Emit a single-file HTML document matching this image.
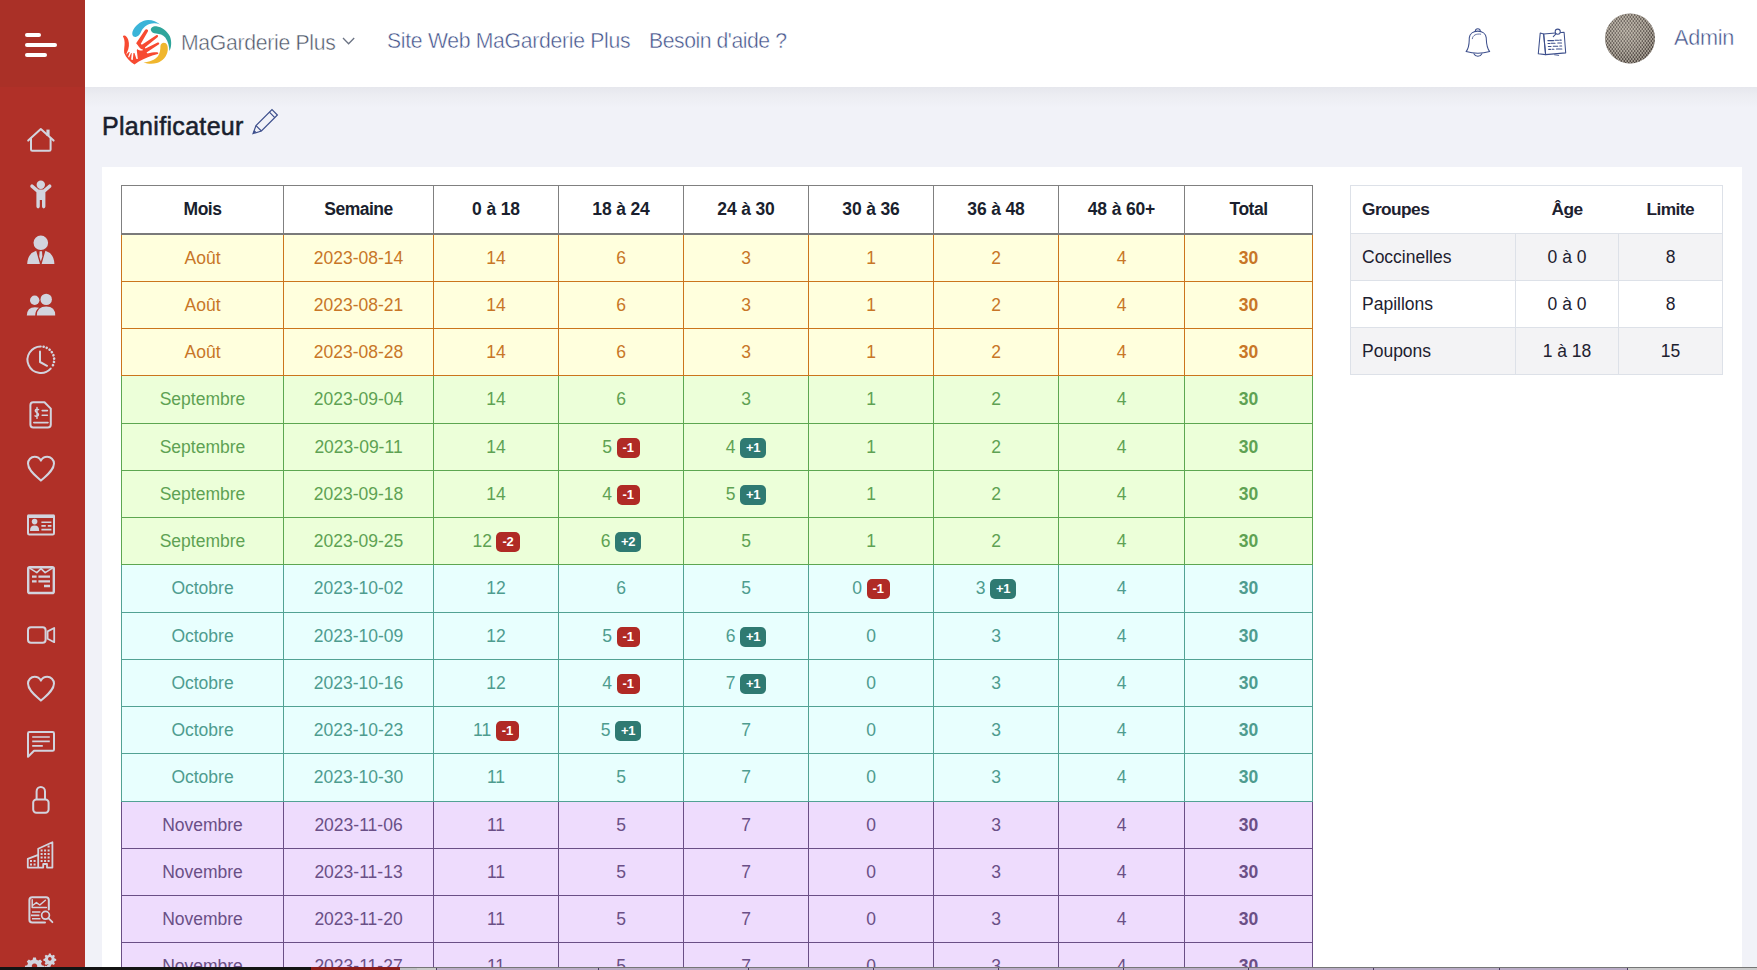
<!DOCTYPE html>
<html lang="fr"><head><meta charset="utf-8"><title>Planificateur</title>
<style>
*{box-sizing:border-box;margin:0;padding:0}
html,body{width:1757px;height:970px;overflow:hidden}
body{background:#f1f2f8;font-family:"Liberation Sans",sans-serif;color:#1d212f;position:relative}
.abs{position:absolute}
#sidebar{position:absolute;left:0;top:0;width:85px;height:970px;background:linear-gradient(#aa3027 0,#aa3027 87px,#b03028 87px)}
#sidebar svg{position:absolute;left:0;overflow:visible}
#topbar{position:absolute;left:85px;top:0;width:1672px;height:87px;background:#fff}
#topshadow{position:absolute;left:85px;top:87px;width:1672px;height:21px;background:linear-gradient(#e6e7ed,#ecedf2 40%,#f1f2f8)}
#topbar .t{position:absolute;white-space:nowrap;color:#42528a;-webkit-text-stroke:0.45px #fff;font-size:21.2px;letter-spacing:-0.3px;line-height:24px}
#title{position:absolute;left:102px;top:110px;font-size:25px;line-height:32px;font-weight:normal;-webkit-text-stroke:0.55px #1a1f2e;letter-spacing:0.32px;color:#1a1f2e;white-space:nowrap}
#card{position:absolute;left:102px;top:167px;width:1640px;height:820px;background:#fff}
table{border-collapse:collapse;table-layout:fixed}
#main{position:absolute;left:121px;top:185px;width:1192px;font-size:17.5px}
#main th,#main td{line-height:26px;text-align:center;vertical-align:middle;padding:0;border:1px solid #808080;white-space:nowrap}
#main thead th{height:48px;font-weight:bold;color:#1a1f2e;border-bottom:2px solid #7a7a7a;background:#fff;font-size:17.5px;letter-spacing:-0.15px}
#main thead th.w{letter-spacing:-0.5px}

#main tr.y td{background:#ffffdd;color:#c87627;border-color:#cb751c}
#main tr.g td{background:#ecffd9;color:#5ea253;border-color:#5da751}
#main tr.c td{background:#e8fffe;color:#4e9c8f;border-color:#52a294}
#main tr.p td{background:#eedcfd;color:#6a4f86;border-color:#6a4f86}
#main td.tot{font-weight:bold}
.bd{display:inline-block;font-size:13px;font-weight:bold;color:#fff;border-radius:5px;padding:0 6px;height:20px;line-height:20px;vertical-align:top;margin-top:4px;margin-left:4.5px;letter-spacing:-0.2px}
#main tr.h48 td{padding-bottom:1px}
#main tr.r0 td{padding-top:1px}
.bd.r{background:#b02a25}
.bd.t{background:#2f7a72}
#grp{position:absolute;left:1350px;top:185px;width:372px;font-size:17.5px;color:#1d212f}
#grp th,#grp td{border:1px solid #dde1e8;height:47px;padding:0 11px;text-align:center;white-space:nowrap}
#grp th{height:48px;font-weight:bold;font-size:17.3px;letter-spacing:-0.55px;border-left:none;border-right:none}
#grp th:first-child{border-left:1px solid #dde1e8}
#grp th:last-child{border-right:1px solid #dde1e8}
#grp td:first-child,#grp th:first-child{text-align:left}
#grp tr.s td{background:#f3f3f5}
#strip{position:absolute;left:0;top:967px;width:1757px;height:3px;background:#cbcbcb}
#strip i{position:absolute;top:0;height:3px;display:block}
</style></head>
<body>
<div id="sidebar">
<svg width="85" height="970" viewBox="0 0 85 970">
<!-- hamburger -->
<g fill="#fff">
<rect x="25" y="33" width="16" height="4" rx="2"/>
<rect x="25" y="43" width="32" height="4" rx="2"/>
<rect x="25" y="53" width="22" height="4" rx="2"/>
</g>
<g fill="none" stroke="#d2d4de" stroke-width="2" stroke-linecap="round" stroke-linejoin="round">
<!-- home -->
<path d="M28.2 140.6 L40.8 129 L53.6 140.600"/>
<path d="M31 138.5 V149.5 Q31 150.8 32.3 150.8 H49.3 Q50.6 150.8 50.6 149.5 V138.5"/>
<path d="M48 135.8 V129.6" stroke-width="3.2" stroke-linecap="butt"/>
<!-- clock -->
<path d="M40.8 346.4 A13.3 13.3 0 1 0 50.7 368.6"/>
<path d="M43.6 346.7 A13.3 13.3 0 0 1 52.6 366" stroke-dasharray="0.1 3.25" stroke-width="2.6"/>
<path d="M40 351.5 V362 L47 365.8"/>
<!-- invoice -->
<path d="M33.2 402.3 H44.5 L50.8 408.6 V424.6 Q50.8 427.6 47.8 427.6 H33.2 Q30.4 427.6 30.4 424.6 V405.3 Q30.4 402.3 33.2 402.3 Z"/>
<path d="M42.2 410.6 H47.4 M42.2 415.2 H47.4 M33.8 422.6 H48" stroke-width="1.6"/>
<path d="M38.6 409.6 Q36.8 408.6 35.6 409.8 Q34.6 411.4 36.8 412.6 Q39.2 413.8 38.2 415.6 Q37 416.8 35 415.8 M37 407.4 V418.4" stroke-width="1.4"/>
<!-- heart 1 -->
<path d="M40.9 480.6 C36 476 28 470.5 28 463.6 C28 459.6 31 456.8 34.6 456.8 C37.2 456.8 39.6 458.2 40.9 460.6 C42.2 458.2 44.6 456.8 47.2 456.8 C50.8 456.8 54 459.6 54 463.6 C54 470.5 45.8 476 40.9 480.6 Z"/>
<!-- id card -->
<path d="M28 516 H54 V533.3 Q54 534.6 52.7 534.6 H29.3 Q28 534.6 28 533.3 Z"/>
<path d="M27.6 516.2 H54.4" stroke-width="3.6" stroke-linecap="butt"/>
<path d="M41.4 522.2 H51.4 M41.4 525.9 H45.8 M47.8 525.9 H51.4 M41.4 529.6 H51.4" stroke-width="1.6" stroke-linecap="butt"/>
<!-- list -->
<rect x="28.2" y="567.2" width="25.6" height="25.8" rx="1.6" stroke-width="2.4"/>
<path d="M30 568.4 L36.8 572.6 L41 568.6 L45.2 572.6 L52 568.4" stroke-width="1.6"/>
<path d="M32 576.6 H36.6 M38.4 576.6 H50 M32 581.4 H36.6 M38.4 581.4 H50 M44 586 H50" stroke-width="2.4" stroke-linecap="butt"/>
<!-- video -->
<rect x="28" y="627.2" width="17.6" height="15.6" rx="3"/>
<path d="M47.6 631.4 L54.2 628 V642.2 L47.6 638.8 Z" stroke-width="1.8"/>
<!-- heart 2 -->
<path d="M40.9 700.6 C36 696 28 690.5 28 683.6 C28 679.6 31 676.8 34.6 676.8 C37.2 676.8 39.6 678.2 40.9 680.6 C42.2 678.2 44.6 676.8 47.2 676.8 C50.8 676.8 54 679.6 54 683.6 C54 690.5 45.8 696 40.9 700.6 Z"/>
<!-- chat -->
<path d="M28 756.8 V733.4 Q28 732 29.4 732 H52.6 Q54 732 54 733.4 V749.4 Q54 750.8 52.6 750.8 H34 Z"/>
<path d="M32.2 737 H49.8 M32.2 741.4 H49.8 M32.2 745.8 H42.8" stroke-width="1.7" stroke-linecap="butt"/>
<!-- lock -->
<rect x="33.2" y="799.4" width="15.4" height="13.4" rx="3.2"/>
<path d="M36.6 799 V791.4 A4.2 4.4 0 0 1 45 791.4 V799"/>
<!-- building -->
<path d="M38.2 867.6 V848.8 L52.4 842.2 V867.6 H47 V864 H43.2 V867.6 H27.8 V858.8 L37.6 855.2" stroke-width="1.8"/>
<!-- report -->
<path d="M45 922.6 H32.2 Q29.4 922.6 29.4 919.8 V900 Q29.4 897.2 32.2 897.2 H46 Q48.8 897.2 48.8 900 V909.6"/>
<path d="M32.2 899.8 V907.4 H46.4 M33.2 905 L36.4 902.6 L39.8 905 L45.4 900.2" stroke-width="1.5"/>
<path d="M32 912 H40.4 M31 915.4 H39.4 M32 918.8 H40.4" stroke-width="1.6" stroke-linecap="butt"/>
<circle cx="45.5" cy="915.3" r="3.9" stroke-width="1.7"/>
<path d="M48.4 918.2 L52.4 922.2" stroke-width="1.8"/>
</g>
<g fill="#d2d4de">
<!-- building windows -->
<path d="M47.6 845.6h2v2h-2z M40.6 849.6h2v2h-2z M44.1 849.6h2v2h-2z M47.6 849.6h2v2h-2z M40.6 853.1h2v2h-2z M44.1 853.1h2v2h-2z M47.6 853.1h2v2h-2z M40.6 856.6h2v2h-2z M44.1 856.6h2v2h-2z M47.6 856.6h2v2h-2z M40.6 860.1h2v2h-2z M44.1 860.1h2v2h-2z M47.6 860.1h2v2h-2z M30 860h2v2h-2z M33.6 860h2v2h-2z M30 863.5h2v2h-2z M33.6 863.5h2v2h-2z"/>
<!-- child -->
<circle cx="40.8" cy="184.8" r="4.2"/>
<path d="M36.4 192.2 L30.6 187.2 Q29.600 185.800 30.900 184.700 Q32.200 183.900 33.300 185 L38.600 189.600 H43.200 L48.400 185 Q49.500 183.900 50.800 184.700 Q52.100 185.800 51.100 187.200 L45.400 192.200 V206.600 Q45.400 208.400 43.700 208.400 Q42 208.400 42 206.600 V200 H39.800 V206.600 Q39.800 208.400 38.100 208.400 Q36.400 208.400 36.400 206.600 Z"/>
<!-- person tie -->
<circle cx="40.8" cy="242.8" r="7.3"/>
<path d="M27.2 264 Q27.6 253.4 36.2 250.8 L39.8 263.2 V264 Z M54.4 264 Q54 253.4 45.4 250.8 L41.8 263.2 V264 Z M39.6 251.2 H42 L42.4 256.6 L40.8 261.6 L39.2 256.6 Z"/>
<!-- users -->
<circle cx="34.7" cy="300.3" r="4.7"/>
<circle cx="46.2" cy="299.4" r="5.7"/>
<path d="M36.8 315.6 Q37 306.6 46.2 306.6 Q55.4 306.6 55.2 315.6 Z"/>
<path d="M26.8 315.6 Q27 307.2 35 307.2 Q37.4 307.2 39 307.8 Q35.2 310.4 35.2 315.6 Z"/>
<!-- id card person -->
<circle cx="34.6" cy="521.6" r="2.8"/>
<path d="M30 531 Q30 525.6 34.6 525.6 Q39.2 525.6 39.2 531 Z"/>
<!-- gears -->
<path id="gearL" fill-rule="evenodd" d="M33.1 957.6 h2.8 l.5 2.2 l1.9 .8 l1.9-1.2 l2 2 l-1.2 1.9 l.8 1.9 l2.2 .5 v2.8 l-2.2 .5 l-.8 1.9 l1.2 1.9 l-2 2 l-1.9-1.2 l-1.9 .8 l-.5 2.2 h-2.8 l-.5-2.2 l-1.9-.8 l-1.9 1.2 l-2-2 l1.2-1.9 l-.8-1.900 l-2.200-.5 v-2.800 l2.200-.5 l.8-1.900 l-1.200-1.900 l2-2 l1.900 1.200 l1.900-.8 Z M34.500 963.400 a2.700 2.700 0 1 0 .01 0 Z"/>
<path fill-rule="evenodd" d="M48.900 953.400 h1.800 l.35 1.500 l1.300 .55 l1.300-.8 l1.300 1.300 l-.8 1.300 l.55 1.300 l1.500 .35 v1.800 l-1.500 .35 l-.55 1.300 l.8 1.300 l-1.300 1.300 l-1.300-.8 l-1.300 .55 l-.35 1.500 h-1.800 l-.35-1.500 l-1.300-.55 l-1.300 .8 l-1.300-1.300 l.8-1.300 l-.55-1.300 l-1.500-.35 v-1.800 l1.500-.35 l.55-1.300 l-.8-1.300 l1.300-1.300 l1.300 .8 l1.300-.55 Z M49.800 957.100 a1.800 1.800 0 1 0 .01 0 Z"/>
<path d="M43.500 967 l2-1.200 l1.400 .5 l.4-1.400 h2 l.4 1.400 l1.400 .6 v1.100 Z"/>
</g>
</svg>
</div>
<div id="topbar">
<!-- logo: drawn in zoom coords, region x110..190 y10..75 => 1194x970 units -->
<svg class="abs" style="left:25px;top:10px" width="80" height="65" viewBox="0 0 1194 970">
<path fill="#3bb4d8" d="M748 218 C700 175 640 150 570 150 C480 152 400 215 350 290 C325 335 325 385 365 400 C400 412 435 385 455 345 C480 290 510 240 590 210 C650 192 700 198 748 218 Z"/>
<path fill="#2fa59b" d="M612 305 C600 270 635 240 690 242 C770 250 855 315 895 395 C925 470 915 560 888 612 C882 540 870 470 825 410 C790 370 740 358 690 352 C650 346 622 335 612 305 Z"/>
<path fill="#f0b62d" d="M805 490 C850 490 868 540 862 600 C850 690 790 760 700 792 C630 812 560 805 500 782 C590 778 670 745 715 690 C748 645 752 590 752 545 C755 510 775 490 805 490 Z"/>
<path fill="#f74a31" d="M200 385 C225 370 255 400 272 445 C292 510 285 570 255 630 L240 668 L280 625 L295 628 L270 700 L285 710 L315 640 L325 645 L315 740 L340 745 L350 640 L365 640 L395 730 L415 730 L400 600 L405 583 C430 605 460 610 490 600 L490 590 C450 580 430 550 415 525 L390 495 L525 295 C540 275 580 290 565 320 L460 505 L475 520 L690 378 C715 365 730 395 705 410 L520 560 L530 575 L710 485 C738 475 745 510 720 520 L545 635 L560 650 C610 635 660 628 705 630 C730 635 725 660 700 660 C610 680 520 720 430 770 L365 812 C300 770 240 710 212 640 C205 590 220 540 218 480 C215 440 205 410 192 395 Z"/>
</svg>
<div class="t" id="brand" style="left:96px;top:31px;color:#4c5567">MaGarderie Plus</div>
<svg class="abs" style="left:255px;top:34px" width="18" height="14" viewBox="0 0 18 14"><path d="M3 4 L8.600 9.800 L14.200 4" fill="none" stroke="#6b7384" stroke-width="1.300"/></svg>
<div class="t" id="nav1" style="left:302px;top:29px">Site Web MaGarderie Plus</div>
<div class="t" id="nav2" style="left:564px;top:29px;letter-spacing:-0.45px">Besoin d'aide ?</div>
<!-- bell + notes: zoom coords region x1450..1590 y10..76 => 1757x828 units -->
<svg class="abs" style="left:1365px;top:10px" width="140" height="66" viewBox="0 0 1757 828">
<g fill="none" stroke="#3d4f8c" stroke-width="13" stroke-linecap="round" stroke-linejoin="round">
<path d="M318 264 C320 225 378 225 380 264"/>
<path d="M202 522 C245 470 240 420 242 350 C248 295 295 265 348 265 C402 265 450 295 455 350 C458 420 455 470 498 522 C400 550 300 550 202 522 Z"/>
<path d="M300 548 C320 590 380 590 400 548"/>
<path d="M280 360 C285 315 330 295 385 303" stroke-width="10"/>
<path d="M1132 290 L1108 548 L1200 560 L1175 300 Z"/>
<path d="M1175 300 L1432 280 L1452 538 L1200 560 Z"/>
<circle cx="1352" cy="272" r="32" fill="#fff"/>
<path d="M1330 300 L1296 334"/>
<path d="M1228 384 H1300 M1318 380 H1362 M1378 378 H1396 M1230 420 H1252 M1268 418 H1318 M1352 414 H1400 M1234 458 H1268 M1296 456 H1352 M1378 452 H1402 M1238 494 H1262 M1280 492 H1304 M1336 488 H1404" stroke-width="13"/>
<path d="M1312 562 L1364 570" stroke-width="10"/>
</g>
</svg>
<!-- avatar -->
<svg class="abs" style="left:1519px;top:12px" width="52" height="52" viewBox="0 0 52 52">
<defs>
<radialGradient id="av" cx="0.42" cy="0.36" r="0.7"><stop offset="0" stop-color="#958d84"/><stop offset="0.55" stop-color="#7b736b"/><stop offset="1" stop-color="#524a44"/></radialGradient>
<pattern id="mesh" width="3" height="4" patternUnits="userSpaceOnUse"><ellipse cx="0.75" cy="1" rx="1.15" ry="0.8" fill="#eae2d5" fill-opacity=".68"/><ellipse cx="2.25" cy="3" rx="1.15" ry="0.8" fill="#eae2d5" fill-opacity=".68"/><ellipse cx="2.25" cy="1" rx="0.55" ry="0.6" fill="#241f1c" fill-opacity=".5"/><ellipse cx="0.75" cy="3" rx="0.55" ry="0.6" fill="#241f1c" fill-opacity=".5"/></pattern>
</defs>
<circle cx="26" cy="26.4" r="25" fill="url(#av)"/>
<circle cx="26" cy="26.4" r="25" fill="url(#mesh)"/>
</svg>
<div class="t" id="admin" style="left:1589px;top:26px;font-size:21.700px;letter-spacing:-0.3px">Admin</div>
</div>
<div id="topshadow"></div>
<div id="title">Planificateur</div>
<svg class="abs" style="left:250px;top:106px" width="30" height="30" viewBox="0 0 30 30"><g fill="none" stroke="#3d4f8c" stroke-width="1.2" stroke-linejoin="miter"><path d="M3 27.6 L6 19.6 L22 3.6 L27.4 9 L11.4 25 Z"/><path d="M6 19.600 L11.400 25 M19.400 6.200 L24.800 11.600"/></g><path d="M3 27.600 L4.300 24.100 L6.500 26.300 Z" fill="#3d4f8c"/></svg>
<div id="card"></div>
<table id="main"><colgroup><col style="width:162px"><col style="width:150px"><col style="width:125px"><col style="width:125px"><col style="width:125px"><col style="width:125px"><col style="width:125px"><col style="width:126px"><col style="width:128px"></colgroup>
<thead><tr><th class="w">Mois</th><th class="w">Semaine</th><th>0 à 18</th><th>18 à 24</th><th>24 à 30</th><th>30 à 36</th><th>36 à 48</th><th>48 à 60+</th><th class="w">Total</th></tr></thead>
<tbody>
<tr class="y r0" style="height:48px"><td>Août</td><td>2023-08-14</td><td>14</td><td>6</td><td>3</td><td>1</td><td>2</td><td>4</td><td class="tot">30</td></tr>
<tr class="y" style="height:47px"><td>Août</td><td>2023-08-21</td><td>14</td><td>6</td><td>3</td><td>1</td><td>2</td><td>4</td><td class="tot">30</td></tr>
<tr class="y" style="height:47px"><td>Août</td><td>2023-08-28</td><td>14</td><td>6</td><td>3</td><td>1</td><td>2</td><td>4</td><td class="tot">30</td></tr>
<tr class="g h48" style="height:48px"><td>Septembre</td><td>2023-09-04</td><td>14</td><td>6</td><td>3</td><td>1</td><td>2</td><td>4</td><td class="tot">30</td></tr>
<tr class="g" style="height:47px"><td>Septembre</td><td>2023-09-11</td><td>14</td><td>5<span class="bd r">-1</span></td><td>4<span class="bd t">+1</span></td><td>1</td><td>2</td><td>4</td><td class="tot">30</td></tr>
<tr class="g" style="height:47px"><td>Septembre</td><td>2023-09-18</td><td>14</td><td>4<span class="bd r">-1</span></td><td>5<span class="bd t">+1</span></td><td>1</td><td>2</td><td>4</td><td class="tot">30</td></tr>
<tr class="g" style="height:47px"><td>Septembre</td><td>2023-09-25</td><td>12<span class="bd r">-2</span></td><td>6<span class="bd t">+2</span></td><td>5</td><td>1</td><td>2</td><td>4</td><td class="tot">30</td></tr>
<tr class="c h48" style="height:48px"><td>Octobre</td><td>2023-10-02</td><td>12</td><td>6</td><td>5</td><td>0<span class="bd r">-1</span></td><td>3<span class="bd t">+1</span></td><td>4</td><td class="tot">30</td></tr>
<tr class="c" style="height:47px"><td>Octobre</td><td>2023-10-09</td><td>12</td><td>5<span class="bd r">-1</span></td><td>6<span class="bd t">+1</span></td><td>0</td><td>3</td><td>4</td><td class="tot">30</td></tr>
<tr class="c" style="height:47px"><td>Octobre</td><td>2023-10-16</td><td>12</td><td>4<span class="bd r">-1</span></td><td>7<span class="bd t">+1</span></td><td>0</td><td>3</td><td>4</td><td class="tot">30</td></tr>
<tr class="c" style="height:47px"><td>Octobre</td><td>2023-10-23</td><td>11<span class="bd r">-1</span></td><td>5<span class="bd t">+1</span></td><td>7</td><td>0</td><td>3</td><td>4</td><td class="tot">30</td></tr>
<tr class="c h48" style="height:48px"><td>Octobre</td><td>2023-10-30</td><td>11</td><td>5</td><td>7</td><td>0</td><td>3</td><td>4</td><td class="tot">30</td></tr>
<tr class="p" style="height:47px"><td>Novembre</td><td>2023-11-06</td><td>11</td><td>5</td><td>7</td><td>0</td><td>3</td><td>4</td><td class="tot">30</td></tr>
<tr class="p" style="height:47px"><td>Novembre</td><td>2023-11-13</td><td>11</td><td>5</td><td>7</td><td>0</td><td>3</td><td>4</td><td class="tot">30</td></tr>
<tr class="p" style="height:47px"><td>Novembre</td><td>2023-11-20</td><td>11</td><td>5</td><td>7</td><td>0</td><td>3</td><td>4</td><td class="tot">30</td></tr>
<tr class="p h48" style="height:48px"><td>Novembre</td><td>2023-11-27</td><td>11</td><td>5</td><td>7</td><td>0</td><td>3</td><td>4</td><td class="tot">30</td></tr>
</tbody></table>
<table id="grp"><colgroup><col style="width:165px"><col style="width:103px"><col style="width:104px"></colgroup>
<thead><tr><th>Groupes</th><th>Âge</th><th>Limite</th></tr></thead>
<tbody>
<tr class="s"><td>Coccinelles</td><td>0 à 0</td><td>8</td></tr>
<tr><td>Papillons</td><td>0 à 0</td><td>8</td></tr>
<tr class="s"><td>Poupons</td><td>1 à 18</td><td>15</td></tr>
</tbody></table>
<div id="strip"><i style="left:0;width:311px;background:#141414"></i><i style="left:311px;width:89px;background:#8a1d19"></i><i style="left:400px;width:17px;background:#c0c0c5"></i><i style="left:436px;width:1192px;background:#b9abc6"></i><i style="left:436px;width:1px;background:#4a3a63"></i><i style="left:598px;width:1px;background:#4a3a63"></i><i style="left:748px;width:1px;background:#4a3a63"></i><i style="left:873px;width:1px;background:#4a3a63"></i><i style="left:998px;width:1px;background:#4a3a63"></i><i style="left:1123px;width:1px;background:#4a3a63"></i><i style="left:1248px;width:1px;background:#4a3a63"></i><i style="left:1373px;width:1px;background:#4a3a63"></i><i style="left:1499px;width:1px;background:#4a3a63"></i><i style="left:1627px;width:1px;background:#4a3a63"></i><i style="left:400px;width:1357px;height:1px;background:#767676"></i></div>
</body></html>
